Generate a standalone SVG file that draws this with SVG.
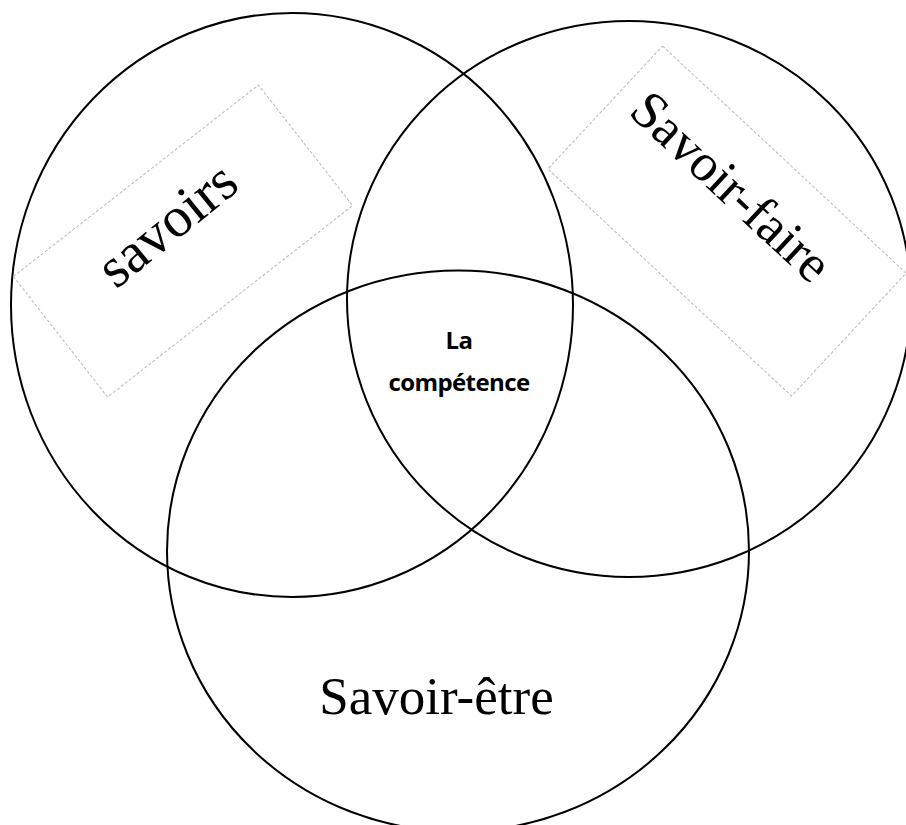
<svg xmlns="http://www.w3.org/2000/svg" width="906" height="825" viewBox="0 0 906 825">
<style>
.c{fill:none;stroke:#000;stroke-width:2}
.box{fill:none;stroke:#b8b8b8;stroke-width:1;stroke-dasharray:3 2}
.serif{font-family:"Liberation Serif","Times New Roman",serif;fill:#000}
.core{font-family:"Open Sans","Noto Sans","Liberation Sans",sans-serif;font-weight:bold;font-size:24px;letter-spacing:-0.6px;fill:#000}
</style>
<rect width="906" height="825" fill="#fff"/>
<g id="circles">
<g id="savoirs-circle"><ellipse class="c" cx="292" cy="305" rx="281" ry="292"/></g>
<g id="savoir-faire-circle"><ellipse class="c" cx="629" cy="299" rx="282" ry="278"/></g>
<g id="savoir-etre-circle"><ellipse class="c" cx="458" cy="551" rx="291" ry="280.5"/></g>
</g>
<g id="savoirs">
<g transform="translate(183,241) rotate(-38)">
<rect class="box" x="-155.5" y="-76.5" width="311" height="153"/>
</g>
<g transform="translate(170,228) rotate(-39)">
<text class="serif" x="0" y="14" font-size="57" text-anchor="middle">savoirs</text>
</g>
</g>
<g id="savoir-faire">
<g transform="translate(727,221) rotate(43)">
<rect class="box" x="-166.5" y="-84" width="333" height="168"/>
</g>
<g transform="translate(731,187) rotate(43)">
<text class="serif" x="0" y="17" font-size="53" text-anchor="middle">Savoir-faire</text>
</g>
</g>
<g id="savoir-etre">
<text class="serif" x="436.5" y="714" font-size="53" text-anchor="middle">Savoir-être</text>
</g>
<g id="competence">
<text class="core" text-anchor="middle"><tspan x="459" y="349">La</tspan><tspan x="459" y="391">compétence</tspan></text>
</g>
</svg>
